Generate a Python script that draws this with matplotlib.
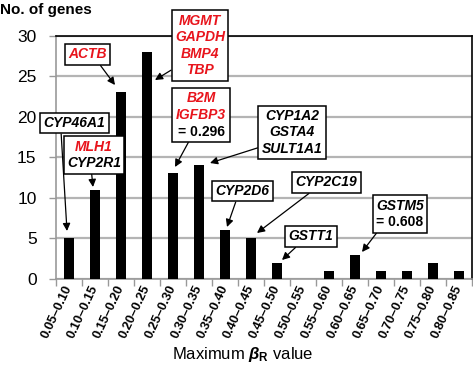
import matplotlib
matplotlib.use("Agg")
import matplotlib.pyplot as plt
from matplotlib.offsetbox import AnnotationBbox, TextArea, VPacker

plt.rcParams['font.family'] = ['Liberation Sans', 'DejaVu Sans']
plt.rcParams['mathtext.fontset'] = 'custom'
plt.rcParams['mathtext.rm'] = 'Liberation Sans'
plt.rcParams['mathtext.it'] = 'Liberation Sans:italic:bold'
plt.rcParams['mathtext.bf'] = 'Liberation Sans:bold'

# ---- data ----
categories = ["0.05\u20130.10", "0.10\u20130.15", "0.15\u20130.20", "0.20\u20130.25",
              "0.25\u20130.30", "0.30\u20130.35", "0.35\u20130.40", "0.40\u20130.45",
              "0.45\u20130.50", "0.50\u20130.55", "0.55\u20130.60", "0.60\u20130.65",
              "0.65\u20130.70", "0.70\u20130.75", "0.75\u20130.80", "0.80\u20130.85"]
counts = [5, 11, 23, 28, 13, 14, 6, 5, 2, 0, 1, 3, 1, 1, 2, 1]
yticks = [0, 5, 10, 15, 20, 25, 30]

RED = '#e8141c'
# gene labels: (text, color, italic)
label_cyp46 = [("CYP46A1", 'black', True)]
label_mlh1 = [("MLH1", RED, True), ("CYP2R1", 'black', True)]
label_actb = [("ACTB", RED, True)]
label_mgmt = [("MGMT", RED, True), ("GAPDH", RED, True), ("BMP4", RED, True), ("TBP", RED, True)]
label_b2m = [("B2M", RED, True), ("IGFBP3", RED, True), ("= 0.296", 'black', False)]
label_cyp1a2 = [("CYP1A2", 'black', True), ("GSTA4", 'black', True), ("SULT1A1", 'black', True)]
label_cyp2d6 = [("CYP2D6", 'black', True)]
label_cyp2c19 = [("CYP2C19", 'black', True)]
label_gstt1 = [("GSTT1", 'black', True)]
label_gstm5 = [("GSTM5", 'black', True), ("= 0.608", 'black', False)]

# ---- figure ----
W, H = 473, 377
fig = plt.figure(figsize=(W / 100, H / 100), dpi=100)
L, R, T, B = 56, 472, 35.5, 279
ax = fig.add_axes([L / W, 1 - B / H, (R - L) / W, (B - T) / H])

x = list(range(len(categories)))
ax.bar(x, counts, width=0.42, color='black', zorder=3)
ax.set_xlim(-0.5, len(categories) - 0.5)
ax.set_ylim(0, 30)
ax.set_yticks(yticks)
ax.yaxis.grid(True, color='#b4b4b4', lw=1.6, zorder=0)
ax.set_axisbelow(True)

ax.set_xticks(x)
ax.set_xticklabels(categories, rotation=65, ha='right', va='center',
                   rotation_mode='anchor', fontsize=9.3, fontweight='bold')
ax.set_xticks([i - 0.5 for i in range(len(categories) + 1)], minor=True)
ax.tick_params(axis='x', which='major', length=0, pad=5)
ax.tick_params(axis='x', which='minor', length=5, color='#999999', width=1, direction='out')
ax.tick_params(axis='y', length=5, color='#999999', width=1, labelsize=12.5, pad=9)

for s in ['top', 'right']:
    ax.spines[s].set_color('black')
    ax.spines[s].set_linewidth(1.2)
for s in ['left', 'bottom']:
    ax.spines[s].set_color('#999999')
    ax.spines[s].set_linewidth(1.2)

fig.text(0.0, 1 - 10 / H, "No. of genes", fontsize=11, fontweight='bold', va='center', ha='left')
fig.text(243 / W, 1 - 355 / H, r"Maximum $\beta_{\mathbf{R}}$ value", fontsize=12,
         ha='center', va='center')


def px2data(px, py):
    return ((px - L) / 26.0 - 0.5, (B - py) / ((B - T) / 30.0))


def add_box(lines, text_px, tip_px, relpos):
    areas = []
    for txt, col, ital in lines:
        areas.append(TextArea(txt, textprops=dict(color=col, fontsize=10, fontweight='bold',
                                                   fontstyle='italic' if ital else 'normal',
                                                   linespacing=1.0)))
    pack = VPacker(children=areas, align='center', pad=0, sep=1.8)
    ab = AnnotationBbox(pack, px2data(*tip_px), xybox=px2data(*text_px),
                        xycoords='data', boxcoords='data', pad=0.25,
                        bboxprops=dict(boxstyle='square,pad=0.25', ec='black', lw=1.1, fc='white'),
                        arrowprops=dict(arrowstyle='-|>', color='black', lw=0.9,
                                        mutation_scale=8, relpos=relpos, shrinkA=0, shrinkB=0),
                        zorder=5, annotation_clip=False)
    ax.add_artist(ab)


add_box(label_cyp46, (74.5, 123), (67, 231), (0.28, 0))
add_box(label_mlh1, (94, 155), (93, 187), (0.45, 0))
add_box(label_actb, (87.5, 54.5), (115, 85), (0.76, 0))
add_box(label_mgmt, (200, 45.5), (155, 80), (0, 0.15))
add_box(label_b2m, (201, 115), (175, 167), (0.29, 0))
add_box(label_cyp1a2, (292, 132.5), (210, 163), (0, 0.2))
add_box(label_cyp2d6, (242.5, 191), (227, 227), (0.4, 0))
add_box(label_cyp2c19, (326.5, 182.5), (257, 233), (0.3, 0))
add_box(label_gstt1, (311, 236.5), (282, 260), (0.25, 0))
add_box(label_gstm5, (400, 214), (362, 252), (0.07, 0))

fig.savefig("out.png", dpi=100)
